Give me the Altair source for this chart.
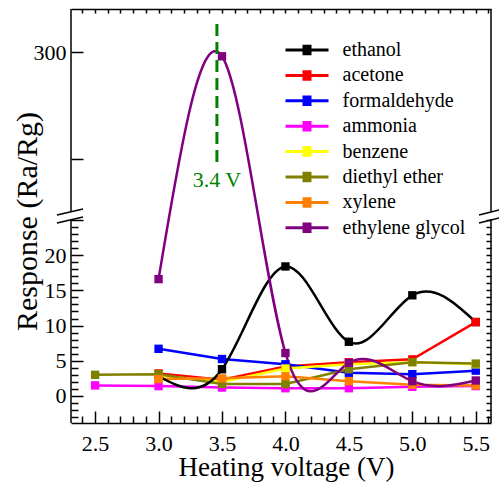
import altair as alt
import pandas as pd

# ---------------- data ----------------
voltage = [2.5, 3.0, 3.5, 4.0, 4.5, 5.0, 5.5]
ethanol = [None, 2.8, 3.8, 18.4, 7.7, 14.3, 10.5]
acetone = [None, 3.2, 2.3, 4.2, 4.8, 5.2, 10.5]
formaldehyde = [None, 6.7, 5.25, 4.5, 3.3, 3.1, 3.6]
ammonia = [1.5, 1.4, 1.2, 1.1, 1.1, 1.3, 1.4]
benzene = [None, 2.9, 2.0, 3.9, 4.5, 4.8, 4.5]
diethyl_ether = [3.0, 3.1, 1.7, 1.7, 3.8, 4.8, 4.6]
xylene = [None, 2.4, 2.5, 2.8, 2.1, 1.6, 1.5]
ethylene_glycol = [None, 16.6, 296.0, 6.1, 4.7, 2.1, 2.2]

series_names = ["ethanol", "acetone", "formaldehyde", "ammonia", "benzene",
                "diethyl ether", "xylene", "ethylene glycol"]
series_values = [ethanol, acetone, formaldehyde, ammonia, benzene,
                 diethyl_ether, xylene, ethylene_glycol]
series_colors = ["#000000", "#ff0000", "#0000ff", "#ff00ff", "#ffff00",
                 "#808000", "#ff8000", "#800080"]
spline_series = ["ethanol", "ethylene glycol"]

peak_voltage = [3.46]
peak_label = ["3.4 V"]

y_labels = [0, 5, 10, 15, 20, 300]
x_labels = [2.5, 3.0, 3.5, 4.0, 4.5, 5.0, 5.5]

rows = []
for name, vals in zip(series_names, series_values):
    for x, v in zip(voltage, vals):
        if v is not None:
            rows.append({"series": name, "voltage": x, "response": v,
                         "spline": name in spline_series})
df = pd.DataFrame(rows)

# ---------------- layout / style ----------------
FONT = "Liberation Serif"
GREEN = "#008000"
W, H = 420, 414
X_DOMAIN = [2.31, 5.62]
# broken axis: lower part and upper part mapped piecewise
Y_DOMAIN = [-3.84, 25.14, 151.4, 340.2]
Y_RANGE = [414, 210, 202, 0]

xscale = alt.Scale(domain=X_DOMAIN, nice=False, zero=False)
yscale = alt.Scale(domain=Y_DOMAIN, range=Y_RANGE, nice=False, zero=False)
cscale = alt.Scale(domain=series_names, range=series_colors)

sym_path = ("M-4.3,0H4.3"
            "M-0.9,-0.75H0.9M-0.9,-0.35H0.9M-0.9,0.05H0.9M-0.9,0.45H0.9M-0.9,0.75H0.9")
legend = alt.Legend(orient="none", legendX=226, legendY=31, title=None,
                    direction="vertical", symbolType=sym_path, symbolSize=100,
                    symbolStrokeWidth=3, labelFont=FONT, labelFontSize=20,
                    labelColor="black", labelOffset=25.5, rowPadding=5.4,
                    padding=0, labelLimit=300)

y_minor = list(range(-3, 26)) + [200, 300]
x_minor = [round(2.4 + 0.1 * i, 1) for i in range(33)]
x_minor = [v for v in x_minor if X_DOMAIN[0] <= v <= X_DOMAIN[1]]

common = dict(grid=False, tickColor="black", tickWidth=1.5,
              domainColor="black", domainWidth=1.5)

ax_left_labels = alt.Axis(orient="left", values=y_labels, ticks=False, tickSize=0,
                          domain=False, labelFont=FONT, labelFontSize=22,
                          labelColor="black", labelPadding=5, format="d",
                          title="Response (Ra/Rg)", titleFont=FONT,
                          titleFontSize=30, titleFontWeight="normal",
                          titleColor="black", titleX=-29, titleY=212,
                          titleBaseline="bottom", titleAlign="center", **common)
ax_left_ticks = alt.Axis(orient="right", offset=-W, values=y_minor, labels=False,
                         domain=False, title=None,
                         tickSize={"condition": {"test": "datum.value % 5 === 0",
                                                 "value": 12}, "value": 7},
                         **common)
ax_right_ticks = alt.Axis(orient="left", offset=-W, values=list(range(-3, 26)),
                          labels=False, domain=False, title=None, tickSize=5,
                          **common)
ax_bottom_labels = alt.Axis(orient="bottom", values=x_labels, ticks=False,
                            tickSize=0, domain=False, labelFont=FONT,
                            labelFontSize=22, labelColor="black",
                            labelPadding=10, format=".1f",
                            title="Heating voltage (V)", titleFont=FONT,
                            titleFontSize=27, titleFontWeight="normal",
                            titleColor="black", titleX=215, titleY=52,
                            titleBaseline="alphabetic", titleAlign="center",
                            **common)
ax_bottom_ticks = alt.Axis(orient="top", offset=-H, values=x_minor, labels=False,
                           domain=True, title=None,
                           tickSize={"condition": {
                               "test": "abs(datum.value*2 - round(datum.value*2)) < 0.001",
                               "value": 12}, "value": 7},
                           **common)
ax_top_ticks = alt.Axis(orient="bottom", offset=-H, values=x_minor, labels=False,
                        domain=True, title=None, tickSize=4, **common)

base = alt.Chart(df)

lines_linear = base.transform_filter("!datum.spline").mark_line(
    strokeWidth=2.5).encode(
    x=alt.X("voltage:Q", scale=xscale, axis=ax_bottom_labels),
    y=alt.Y("response:Q", scale=yscale, axis=ax_left_labels),
    color=alt.Color("series:N", scale=cscale, legend=legend),
)

lines_spline = base.transform_filter("datum.spline").mark_line(
    strokeWidth=2.5, interpolate="natural").encode(
    x=alt.X("voltage:Q", scale=xscale, axis=ax_bottom_ticks),
    y=alt.Y("response:Q", scale=yscale, axis=ax_left_ticks),
    color=alt.Color("series:N", scale=cscale, legend=legend),
)

points = base.mark_square(size=70, filled=True, opacity=1).encode(
    x=alt.X("voltage:Q", scale=xscale, axis=ax_top_ticks),
    y=alt.Y("response:Q", scale=yscale, axis=ax_right_ticks),
    color=alt.Color("series:N", scale=cscale, legend=legend),
)

peak_df = pd.DataFrame({"x": peak_voltage, "y": [197.2], "y2": [328.0],
                        "ty": [180.4], "label": peak_label})
peak_rule = alt.Chart(peak_df).mark_rule(color=GREEN, strokeWidth=3,
                                         strokeDash=[12, 6]).encode(
    x=alt.X("x:Q", scale=xscale, axis=None),
    y=alt.Y("y:Q", scale=yscale, axis=None),
    y2="y2:Q",
)
peak_text = alt.Chart(peak_df).mark_text(font=FONT, fontSize=22, color=GREEN,
                                         align="center", baseline="middle").encode(
    x=alt.X("x:Q", scale=xscale, axis=None),
    y=alt.Y("ty:Q", scale=yscale, axis=None),
    text="label:N",
)

one = pd.DataFrame({"a": [0]})


def seg(x1, y1, x2, y2):
    return alt.Chart(one).mark_rule(color="black", strokeWidth=1.5).encode(
        x=alt.value(x1), y=alt.value(y1), x2=alt.value(x2), y2=alt.value(y2))


frame = [
    seg(0, 0, 0, 203), seg(0, 210, 0, H),
    seg(W, 0, W, 203), seg(W, 210, W, H),
    # axis break marks
    seg(-14, 206, 12, 200), seg(-14, 214, 12, 208),
    seg(W - 12, 206, W + 12, 200), seg(W - 12, 214, W + 12, 208),
]

chart = alt.layer(lines_linear, lines_spline, points, peak_rule, peak_text,
                  *frame).resolve_axis(x="independent", y="independent").properties(
    width=W, height=H,
    autosize=alt.AutoSizeParams(type="none"),
    padding={"left": 71, "top": 9, "right": 8, "bottom": 61},
).configure(font=FONT).configure_view(stroke=None).configure_axis(
    grid=False, labelFont=FONT, titleFont=FONT
).configure_legend(labelFont=FONT, titleFont=FONT).configure_text(font=FONT)

chart.save("out.html", embed_options={"renderer": "svg", "actions": False})
